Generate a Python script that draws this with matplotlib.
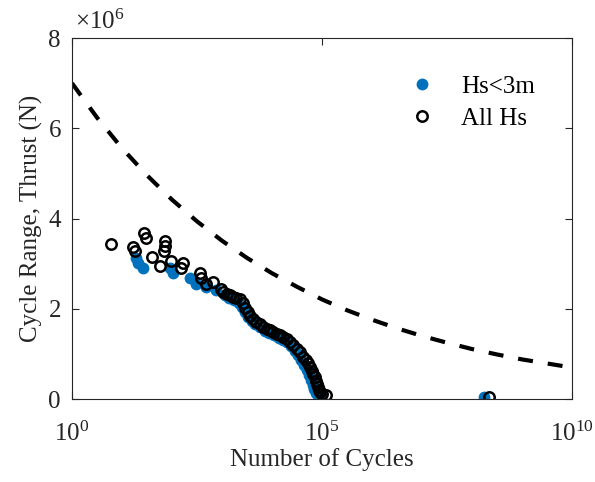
import numpy as np
import matplotlib.pyplot as plt

plt.rcParams['font.family'] = ['Liberation Serif', 'DejaVu Serif']
plt.rcParams['mathtext.fontset'] = 'custom'
plt.rcParams['mathtext.rm'] = 'Liberation Serif'
plt.rcParams['mathtext.it'] = 'Liberation Serif:italic'

# S-N design curve (half-decade steps)
sn_cycles = [1, 3.16, 10, 31.6, 1e2, 316, 1e3, 3.16e3, 1e4, 3.16e4, 1e5,
             3.16e5, 1e6, 3.16e6, 1e7, 3.16e7, 1e8, 3.16e8, 1e9, 3.16e9, 1e10]
sn_range = [7.00, 6.24, 5.56, 4.96, 4.42, 3.94, 3.51, 3.13, 2.79, 2.49, 2.21,
            1.97, 1.76, 1.57, 1.40, 1.25, 1.11, 0.99, 0.88, 0.79, 0.70]

# Hs < 3m, cycle range in units of 1e6 N
low_cycles = [19.5, 21.4, 26.9, 91.2, 107, 229, 309, 490, 776, 1150, 1410,
              1780, 2190, 2510, 2880, 3310, 3980, 4680, 5750, 7240, 8910,
              11200, 13800, 16600, 20000, 24000, 28800, 33900, 38900, 44700,
              50100, 55000, 60300, 66100, 70800, 75900, 83200, 95500, 1.74e8]
low_range = [3.12, 3.01, 2.90, 2.90, 2.79, 2.68, 2.56, 2.49, 2.42, 2.31, 2.25,
             2.20, 2.14, 2.04, 1.93, 1.83, 1.74, 1.66, 1.59, 1.52, 1.47,
             1.42, 1.36, 1.32, 1.26, 1.17, 1.07, 0.97, 0.87, 0.76,
             0.65, 0.54, 0.43, 0.32, 0.22, 0.14, 0.08, 0.06, 0.05]

# all Hs, cycle range in units of 1e6 N
all_cycles = [5.9, 17.0, 18.2, 28.2, 30.9, 72.4, 72.4, 69.2, 40.7, 58.9, 97.7,
              170, 155, 363, 389, 479, 676, 977,
              1070, 1260, 1450, 1660, 1950, 2290, 2630, 2950, 3310, 3720,
              4270, 4900, 5750, 6760, 7940, 9120, 10700, 12600, 14800, 17000,
              20000, 22900, 26900, 31600, 36300, 42700, 47900, 52500, 57500,
              63100, 67600, 72400, 77600, 81300, 85100, 89100, 93300, 100000,
              123000, 2.24e8]
all_range = [3.44, 3.38, 3.29, 3.67, 3.56, 3.51, 3.39, 3.29, 3.14, 2.95, 3.07,
             3.01, 2.90, 2.79, 2.68, 2.56, 2.60, 2.45,
             2.38, 2.33, 2.31, 2.27, 2.25, 2.21, 2.12, 2.02, 1.92, 1.84,
             1.78, 1.71, 1.66, 1.60, 1.56, 1.53, 1.49, 1.45, 1.41, 1.38,
             1.33, 1.27, 1.20, 1.12, 1.04, 0.94, 0.86, 0.79, 0.72,
             0.63, 0.56, 0.49, 0.40, 0.33, 0.27, 0.21, 0.16, 0.12,
             0.09, 0.05]

fig = plt.figure(figsize=(5.95, 4.82), dpi=100)
ax = fig.add_axes([0.121, 0.172, 0.840, 0.749])

ax.plot(low_cycles, low_range, 'o', color='#0072BD', markersize=8.5,
        markeredgewidth=0, label='Hs<3m')
ax.plot(all_cycles, all_range, 'o', mfc='none', mec='black', markersize=7.5,
        markeredgewidth=1.8, label='All Hs')
ax.plot(sn_cycles, sn_range, '--', color='black', linewidth=3,
        dashes=(3.6, 3.6))

ax.set_xscale('log')
ax.set_xlim(1, 1e10)
ax.set_ylim(0, 8)
ax.set_xticks([1, 1e5, 1e10])
ax.set_xticklabels(['$10^0$', '$10^5$', '$10^{10}$'])
ax.minorticks_off()
ax.set_yticks([0, 2, 4, 6, 8])
ax.set_yticklabels(['0', '2', '4', '6', '8'])

for s in ax.spines.values():
    s.set_color('#262626')
    s.set_linewidth(0.8)
ax.tick_params(direction='in', top=True, right=True, labelsize=18,
               colors='#262626', length=5, width=0.8, pad=8)
ax.tick_params(axis='x', pad=16)

ax.set_xlabel('Number of Cycles', fontsize=18, color='#262626', labelpad=2)
ax.set_ylabel('Cycle Range, Thrust (N)', fontsize=18, color='#262626')
ax.text(0.006, 1.01, r'$\times10^6$', transform=ax.transAxes, fontsize=18,
        color='#262626', va='bottom', ha='left')

ax.legend(loc='upper left', bbox_to_anchor=(0.618, 0.96), frameon=False,
          fontsize=18, handlelength=1.5, handletextpad=0.8, labelspacing=0.38)

fig.savefig('out.png', dpi=100)
